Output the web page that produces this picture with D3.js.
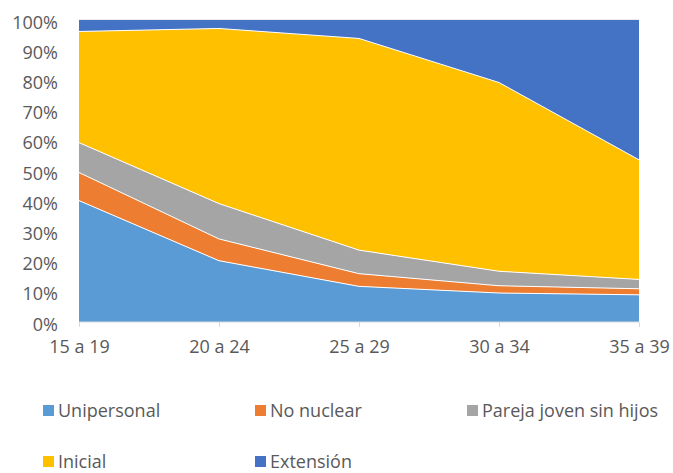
<!DOCTYPE html>
<html>
<head>
<meta charset="utf-8">
<script src="https://cdn.jsdelivr.net/npm/d3@7"></script>
<style>
  html, body { margin: 0; padding: 0; background: #fff; }
  svg { display: block; font-family: "Open Sans", sans-serif; }
</style>
</head>
<body>
<svg id="chart" width="673" height="473"></svg>
<script>
// Age groups along the x axis
const categories = ["15 a 19", "20 a 24", "25 a 29", "30 a 34", "35 a 39"];

// Share of each household type per age group (percent)
const seriesNames = ["Unipersonal", "No nuclear", "Pareja joven sin hijos", "Inicial", "Extensión"];
const unipersonal = [40.2, 20.3, 11.8, 9.6, 9.0];
const noNuclear   = [9.3, 7.2, 4.2, 2.4, 2.0];
const pareja      = [9.9, 11.7, 7.8, 4.8, 3.1];
const inicial     = [36.8, 58.0, 70.1, 62.5, 39.6];
const extension   = [3.8, 2.8, 6.1, 20.7, 46.3];

const yTicks = [0, 10, 20, 30, 40, 50, 60, 70, 80, 90, 100];
const colors = ["#5B9BD5", "#ED7D31", "#A5A5A5", "#FFC000", "#4472C4"];

const seriesValues = [unipersonal, noNuclear, pareja, inicial, extension];
const rows = categories.map((c, i) => {
  const r = { cat: c };
  seriesNames.forEach((n, k) => { r[n] = seriesValues[k][i]; });
  return r;
});

const svg = d3.select("#chart");
const margin = { left: 79, right: 34, top: 20, bottom: 151 };
const W = 673, H = 473;
const FONT = "18px";

const x = d3.scalePoint().domain(categories).range([margin.left, W - margin.right]);
const y = d3.scaleLinear().domain([0, 100]).range([H - margin.bottom, margin.top]);

const stack = d3.stack().keys(seriesNames);
const layers = stack(rows);

const area = d3.area()
  .x(d => x(d.data.cat))
  .y0(d => y(d[0]))
  .y1(d => y(d[1]));

const topLine = d3.line()
  .x(d => x(d.data.cat))
  .y(d => y(d[1]));

// Light frame line at the 100% level
svg.append("line")
  .attr("x1", margin.left).attr("x2", W - margin.right)
  .attr("y1", y(100)).attr("y2", y(100))
  .attr("stroke", "#d9d9d9").attr("stroke-width", 1);

svg.append("g").selectAll("path")
  .data(layers)
  .join("path")
  .attr("d", area)
  .attr("fill", (d, i) => colors[i]);

// Thin white separators along the top of each band
svg.append("g").selectAll("path")
  .data(layers.slice(0, layers.length - 1))
  .join("path")
  .attr("d", topLine)
  .attr("fill", "none")
  .attr("stroke", "#ffffff")
  .attr("stroke-width", 1);

// Y axis labels
const yAxis = d3.axisLeft(y)
  .tickValues(yTicks)
  .tickFormat(d => d + "%")
  .tickSize(0)
  .tickPadding(21);
const gy = svg.append("g")
  .attr("transform", `translate(${margin.left},0)`)
  .call(yAxis);
gy.select(".domain").remove();
gy.selectAll("text")
  .attr("fill", "#595959")
  .attr("font-size", FONT)
  .attr("font-family", "Open Sans, sans-serif")
  .attr("dy", "0.45em");

// X axis
const xAxis = d3.axisBottom(x).tickSize(5).tickPadding(13);
const gx = svg.append("g")
  .attr("transform", `translate(0,${y(0)})`)
  .call(xAxis);
gx.select(".domain")
  .attr("stroke", "#d9d9d9")
  .attr("d", `M${margin.left},0H${W - margin.right}`);
gx.selectAll(".tick line").attr("stroke", "#d9d9d9");
gx.selectAll("text")
  .attr("fill", "#595959")
  .attr("font-size", FONT)
  .attr("font-family", "Open Sans, sans-serif");

// Legend
const legendX = [43, 255, 467];
const legendY = [411, 462];
const lg = svg.append("g").selectAll("g")
  .data(seriesNames)
  .join("g")
  .attr("transform", (d, i) => `translate(${legendX[i % 3]},${legendY[Math.floor(i / 3)]})`);
lg.append("rect")
  .attr("x", 0).attr("y", -6)
  .attr("width", 11).attr("height", 11)
  .attr("fill", (d, i) => colors[i]);
lg.append("text")
  .attr("x", 15).attr("y", 0)
  .attr("dy", "0.35em")
  .attr("fill", "#595959")
  .attr("font-size", FONT)
  .text(d => d);
</script>
</body>
</html>
